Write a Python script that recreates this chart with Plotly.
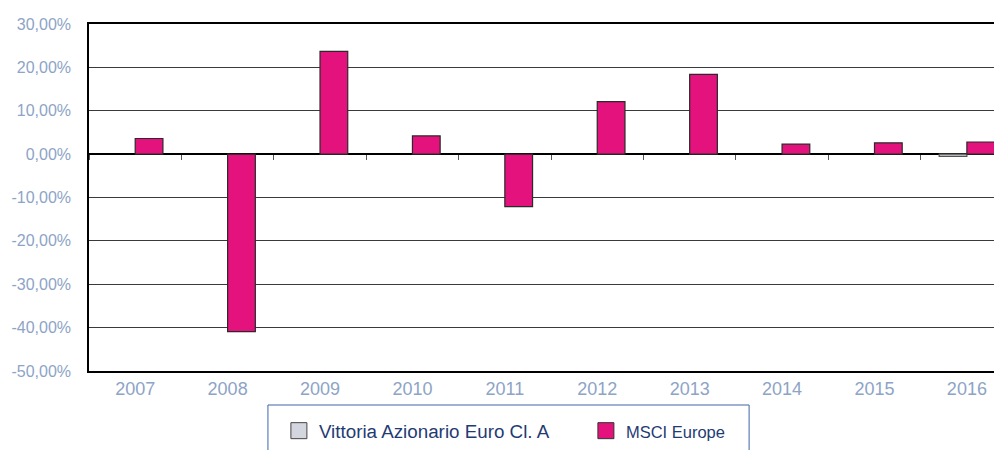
import plotly.graph_objects as go

years = ["2007", "2008", "2009", "2010", "2011", "2012", "2013", "2014", "2015", "2016"]
vittoria = [None, None, None, None, None, None, None, None, None, -0.5]
msci = [3.6, -40.9, 23.7, 4.2, -12.1, 12.1, 18.4, 2.3, 2.6, 2.8]
y_ticks = [-50, -40, -30, -20, -10, 0, 10, 20, 30]
y_ticktext = [f"{v:.2f}".replace(".", ",") + "%" for v in y_ticks]

name_v = "Vittoria Azionario Euro Cl. A"
name_m = "MSCI Europe"

col_v = "#D3D6DE"
col_m = "#E3127D"
label_col = "#8DA4C6"
legend_col = "#1F3B73"

fig = go.Figure()
fig.add_trace(go.Bar(x=years, y=vittoria, name=name_v, marker=dict(color=col_v, line=dict(color="#555555", width=1.2)), showlegend=False))
fig.add_trace(go.Bar(x=years, y=msci, name=name_m, marker=dict(color=col_m, line=dict(color="#2a2a2a", width=1.2)), showlegend=False))

# legend proxies (bigger square symbols)
fig.add_trace(go.Scatter(x=[None], y=[None], mode="markers", name=name_v,
                         marker=dict(symbol="square", size=16, color=col_v, line=dict(color="#444444", width=1))))
fig.add_trace(go.Scatter(x=[None], y=[None], mode="markers", name='<span style="font-size:16.5px">' + name_m + '</span>',
                         marker=dict(symbol="square", size=16, color=col_m, line=dict(color="#333333", width=1))))

# helper axis for the tick marks sitting on the zero line
fig.add_trace(go.Scatter(x=years, y=[0] * len(years), xaxis="x2", mode="markers",
                         marker=dict(opacity=0), showlegend=False, hoverinfo="skip"))

xr = [-0.5, 9.38]
fig.update_layout(
    width=994, height=442,
    margin=dict(l=81, r=0, t=16, b=73),
    paper_bgcolor="white", plot_bgcolor="white",
    barmode="group", bargap=0.4, bargroupgap=0,
    font=dict(family="Liberation Sans, Arial, sans-serif"),
    xaxis=dict(type="category", categoryorder="array", categoryarray=years, range=xr,
               showline=True, linecolor="black", linewidth=2, mirror=True,
               ticks="", showgrid=False, zeroline=False,
               tickfont=dict(size=18, color=label_col)),
    xaxis2=dict(type="category", categoryorder="array", categoryarray=years, range=xr,
                overlaying="x", anchor="free", position=0.625,
                showline=False, ticks="outside", tickson="boundaries", ticklen=5,
                tickcolor="#555555", tickwidth=1, showticklabels=False,
                showgrid=False, zeroline=False),
    yaxis=dict(range=[-50, 30], tickvals=y_ticks, ticktext=y_ticktext,
               showline=True, linecolor="black", linewidth=1.5,
               showgrid=True, gridcolor="#3a3a3a", gridwidth=1,
               zeroline=True, zerolinecolor="black", zerolinewidth=1.5,
               ticks="", ticklabelstandoff=13,
               tickfont=dict(size=16, color=label_col)),
    legend=dict(orientation="h", x=0.208, xanchor="left", y=-0.118, yanchor="top",
                entrywidth=262, entrywidthmode="pixels",
                font=dict(size=18.8, color=legend_col), bgcolor="rgba(0,0,0,0)",
                borderwidth=0),
    shapes=[dict(type="rect", xref="paper", yref="paper", x0=0.196, x1=0.723, y0=-0.098, y1=-0.3,
                 line=dict(color="#3F64A8", width=1), fillcolor="rgba(0,0,0,0)", layer="above")],
)

fig.write_html("out.html")
